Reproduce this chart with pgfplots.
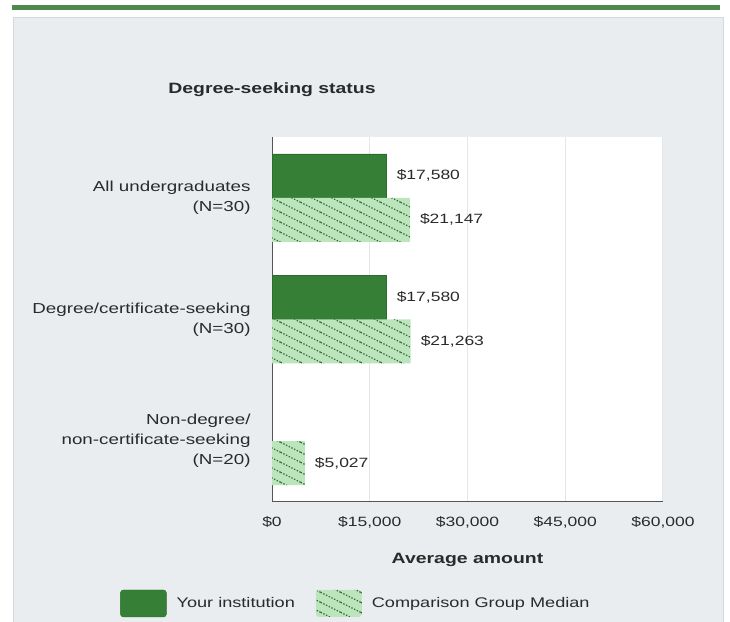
\documentclass[border=0pt]{standalone}
\usepackage{fontspec}
\setmainfont{Liberation Sans}[FakeStretch=1.3]
\usepackage{pgfplots}
\pgfplotsset{compat=1.18}
\usetikzlibrary{patterns.meta}
\definecolor{topgreen}{HTML}{4E8A4E}
\definecolor{panel}{HTML}{EAEDF0}
\definecolor{panelborder}{HTML}{D6D9DC}
\definecolor{dkgreen}{HTML}{367F36}
\definecolor{ltgreen}{HTML}{BDE5BD}
\definecolor{hatch}{HTML}{2F6A2F}
\definecolor{txt}{HTML}{2A2A2A}
\definecolor{axiscol}{HTML}{555555}
\definecolor{gridc}{HTML}{E6E6E6}

\tikzdeclarepattern{
  name=hatchnw,
  type=uncolored,
  bounding box={(-1bp,-1bp) and (21bp,11bp)},
  tile size={(20bp,10bp)},
  code={\draw[line width=1.3bp, dash pattern=on 1.3bp off 1.7bp] (-2bp,11bp) -- (22bp,-1bp);}
}

\begin{document}
\begin{tikzpicture}
\fill[panel, draw=panelborder] (13bp,-2bp) rectangle (723bp,605bp);
\fill[topgreen] (12bp,612bp) rectangle (720bp,617bp);
\begin{axis}[
  at={(272bp,120bp)}, anchor=south west,
  scale only axis, width=391bp, height=365bp,
  xmin=0, xmax=60000, ymin=-0.5, ymax=2.5,
  scaled x ticks=false,
  axis lines=left,
  axis line style={-, draw=axiscol, line width=1bp},
  every outer x axis line/.append style={-},
  every outer y axis line/.append style={-},
  axis background/.style={fill=white},
  xtick={0,15000,30000,45000,60000},
  xticklabels={{\$0},{\$15,000},{\$30,000},{\$45,000},{\$60,000}},
  xtick style={draw=none}, ytick style={draw=none},
  xmajorgrids, grid style={gridc, line width=1bp},
  ytick={0,1,2},
  yticklabels={{Non-degree/\\non-certificate-seeking\\(N=20)},{Degree/certificate-seeking\\(N=30)},{All undergraduates\\(N=30)}},
  yticklabel style={align=right, font=\fontsize{14.5}{20}\selectfont, text=txt, inner sep=0pt, xshift=-17bp},
  xticklabel style={font=\fontsize{13.5}{16}\selectfont, text=txt, inner sep=0pt, yshift=-12bp},
  /pgf/number format/assume math mode=true,
  title={Degree-seeking status},
  title style={at={(axis description cs:0,1.1137)}, anchor=center, font=\bfseries\fontsize{15}{18}\selectfont, text=txt},
  xlabel={Average amount},
  xlabel style={at={(axis description cs:0.5,-0.160)}, anchor=center, font=\bfseries\fontsize{15}{18}\selectfont, text=txt},
  xbar, bar width=44bp,
  legend image code/.code={\path[#1, rounded corners=3bp] (0bp,-13.5bp) rectangle (46bp,13.5bp);},
  legend columns=2,
  legend style={at={(axis description cs:-0.3887,-0.278)}, anchor=west, draw=none, fill=none, inner sep=0pt,
    nodes={inner sep=0pt, font=\fontsize{14}{16}\selectfont, text=txt},
    /tikz/every odd column/.append style={column sep=10bp},
    /tikz/every even column/.append style={column sep=21bp}},
  nodes near coords={\$\pgfmathprintnumber[fixed,precision=0,1000 sep={,}]{\pgfplotspointmeta}},
  every node near coord/.append style={anchor=west, inner sep=0pt, xshift=10bp, font=\fontsize{13.5}{16}\selectfont, text=txt},
]
\addplot[xbar, bar shift=22bp, fill=dkgreen, draw=dkgreen!85!black] coordinates {(17580,2) (17580,1)};
\addlegendentry{Your institution}
\addplot[xbar, bar shift=-22bp, fill=ltgreen, draw=none, postaction={pattern={hatchnw}, pattern color=hatch}] coordinates {(21147,2) (21263,1) (5027,0)};
\addlegendentry{Comparison Group Median}
\draw[axiscol, line width=1bp] (axis cs:0,0.5) -- ++(-10bp,0);
\draw[axiscol, line width=1bp] (axis cs:0,1.5) -- ++(-10bp,0);
\draw[axiscol, line width=1bp] ([xshift=-9bp]axis cs:0,-0.5) -- ([xshift=5bp]axis cs:60000,-0.5);
\end{axis}
\pgfresetboundingbox
\useasboundingbox (0,0) rectangle (730bp,622bp);
\end{tikzpicture}
\end{document}
